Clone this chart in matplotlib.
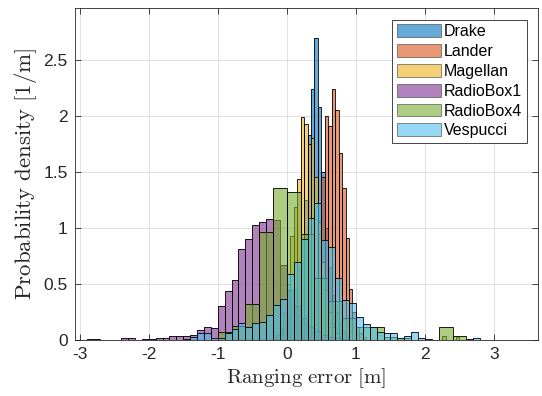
import matplotlib
matplotlib.use("Agg")
import matplotlib.pyplot as plt
import numpy as np

# ===== Data (probability density per bin) =====
names = ["Drake", "Lander", "Magellan", "RadioBox1", "RadioBox4", "Vespucci"]

# Drake: bins of 0.05 m starting at -0.20 m
drake_start, drake_w = -0.20, 0.05
drake_h = [0.03, 0.05, 0.08, 0.12, 0.20, 0.30, 0.45, 0.65, 0.90, 1.25, 1.83,
           2.24, 2.69, 2.08, 1.50, 1.00, 0.65, 0.40, 0.25, 0.15, 0.08, 0.04]

# Lander: bins of 0.05 m starting at 0.20 m
lander_start, lander_w = 0.20, 0.05
lander_h = [0.03, 0.06, 0.12, 0.25, 0.50, 0.95, 1.45, 2.00, 1.91, 2.24, 2.05,
            1.67, 1.36, 0.91, 0.46, 0.25, 0.12, 0.06, 0.03]

# Magellan: bins of 0.05 m starting at -0.15 m (+ two outlier bins)
magellan_start, magellan_w = -0.15, 0.05
magellan_h = [0.05, 0.10, 0.25, 0.50, 0.93, 1.19, 1.44, 1.99, 1.93, 1.75,
              1.80, 1.45, 1.05, 0.70, 0.45, 0.25, 0.12, 0.06, 0.03]
magellan_out_x = [2.25, 2.45]
magellan_out_h = [0.04, 0.03]

# RadioBox1: bins of 0.1 m starting at -3.0 m
rb1_start, rb1_w = -3.0, 0.1
rb1_h = [0.005, 0.01, 0.01, 0.005, 0.0, 0.005, 0.015, 0.015, 0.005, 0.01,
         0.01, 0.02, 0.02, 0.035, 0.04, 0.04, 0.05, 0.09, 0.12, 0.11,
         0.30, 0.44, 0.54, 0.81, 0.90, 1.03, 1.05, 1.08, 1.07, 0.67,
         0.45, 0.30, 0.20, 0.12, 0.08, 0.05, 0.03, 0.02, 0.01]

# RadioBox4: bins of 0.2 m starting at -1.0 m
rb4_start, rb4_w = -1.0, 0.2
rb4_h = [0.07, 0.13, 0.32, 0.96, 1.36, 1.32, 0.95, 0.55, 0.35, 0.20,
         0.12, 0.12, 0.03, 0.02, 0.0, 0.0, 0.12, 0.04]

# Vespucci: bins of 0.1 m starting at -1.5 m
ves_start, ves_w = -1.5, 0.1
ves_h = [0.01, 0.03, 0.06, 0.06, 0.02, 0.02, 0.06, 0.10, 0.15, 0.12,
         0.15, 0.16, 0.22, 0.31, 0.37, 0.59, 0.70, 0.90, 1.09, 1.22,
         0.89, 0.83, 0.55, 0.36, 0.33, 0.21, 0.14, 0.12, 0.07, 0.06,
         0.06, 0.015, 0.035, 0.075, 0.015, 0.01, 0.005, 0.0, 0.0, 0.005,
         0.0, 0.01, 0.015]

colors = ["#0072BD", "#D95319", "#EDB120", "#7E2F8E", "#77AC30", "#4DBEEE"]


def lefts(start, w, h):
    return start + w * np.arange(len(h))


series = [
    (lefts(drake_start, drake_w, drake_h), drake_h, drake_w),
    (lefts(lander_start, lander_w, lander_h), lander_h, lander_w),
    (np.concatenate([lefts(magellan_start, magellan_w, magellan_h), magellan_out_x]),
     magellan_h + magellan_out_h, magellan_w),
    (lefts(rb1_start, rb1_w, rb1_h), rb1_h, rb1_w),
    (lefts(rb4_start, rb4_w, rb4_h), rb4_h, rb4_w),
    (lefts(ves_start, ves_w, ves_h), ves_h, ves_w),
]

# ===== Style =====
plt.rcParams["font.family"] = ["Liberation Sans", "DejaVu Sans"]
plt.rcParams["mathtext.fontset"] = "cm"
plt.rcParams["axes.unicode_minus"] = False

fig = plt.figure(figsize=(5.42, 3.96), dpi=100)
ax = fig.add_axes([0.138, 0.141, 0.855, 0.839])

for (x, h, w), name, c in zip(series, names, colors):
    h = np.asarray(h)
    keep = h > 0
    ax.bar(np.asarray(x)[keep], h[keep], width=w, align="edge", color=c,
           alpha=0.6, edgecolor="none", label=name, zorder=2)
    ax.bar(np.asarray(x)[keep], h[keep], width=w, align="edge",
           facecolor="none", edgecolor="black", linewidth=0.6, zorder=2)

ax.set_xlim(-3.07, 3.64)
ax.set_ylim(0, 2.96)
ax.set_xticks([-3, -2, -1, 0, 1, 2, 3])
ax.set_yticks([0, 0.5, 1, 1.5, 2, 2.5])
ax.set_yticklabels(["0", "0.5", "1", "1.5", "2", "2.5"])
ax.tick_params(direction="in", top=True, right=True, labelsize=12.5,
               colors="#262626", length=4, width=0.6, pad=5)
for s in ax.spines.values():
    s.set_color("#262626")
    s.set_linewidth(0.6)
ax.grid(True, color="#dcdcdc", linewidth=0.6, zorder=0)
ax.set_axisbelow(True)

ax.set_xlabel(r"$\mathrm{Ranging\ error\ [m]}$", fontsize=15, color="#262626",
              labelpad=3)
ax.set_ylabel(r"$\mathrm{Probability\ density\ [1/m]}$", fontsize=16.5,
              color="#262626", labelpad=3)

leg = ax.legend(loc="upper right", fontsize=11.5, handlelength=2.75, handleheight=0.85,
                handletextpad=0.2, borderpad=0.3, labelspacing=0.3,
                borderaxespad=0, fancybox=False, framealpha=1, edgecolor="#262626",
                bbox_to_anchor=(0.976, 0.965))
leg.get_frame().set_linewidth(0.6)
for p in leg.get_patches():
    p.set_edgecolor("#262626")
    p.set_linewidth(0.6)

fig.savefig("out.png", dpi=100)
